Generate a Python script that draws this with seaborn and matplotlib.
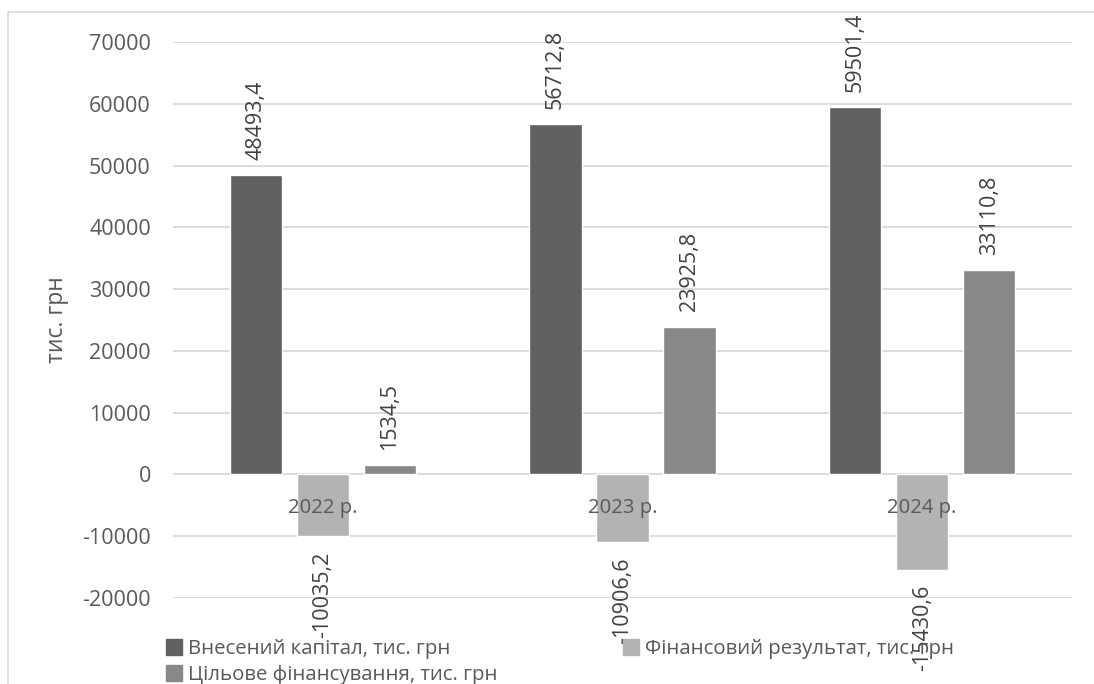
import matplotlib
matplotlib.use("Agg")
import matplotlib.pyplot as plt
from matplotlib.patches import Rectangle
import seaborn as sns
import pandas as pd

years = ["2022 р.", "2023 р.", "2024 р."]
series_names = ["Внесений капітал, тис. грн", "Фінансовий результат, тис. грн", "Цільове фінансування, тис. грн"]
capital = [48493.4, 56712.8, 59501.4]
fin_result = [-10035.2, -10906.6, -15430.6]
target_fin = [1534.5, 23925.8, 33110.8]
y_ticks = [-20000, -10000, 0, 10000, 20000, 30000, 40000, 50000, 60000, 70000]
colors = ["#616161", "#b3b3b3", "#888888"]

rows = []
for name, vals in zip(series_names, [capital, fin_result, target_fin]):
    for y, v in zip(years, vals):
        rows.append({"year": y, "series": name, "value": v})
df = pd.DataFrame(rows)

sns.set_theme(style="white")
FONT = ["Open Sans", "DejaVu Sans"]
plt.rcParams["font.family"] = FONT

W, H = 1094, 684
fig = plt.figure(figsize=(W / 100, H / 100), dpi=100)
ax = fig.add_axes([173 / W, 1 - 598 / H, (1072 - 173) / W, (598 - 42) / H])

sns.barplot(data=df, x="year", y="value", hue="series", hue_order=series_names,
            order=years, palette=colors, width=0.67, gap=0.22, ax=ax,
            legend=False, saturation=1, errorbar=None, zorder=2)

ax.set_ylim(-20000, 70000)
ax.set_yticks(y_ticks)
ax.set_yticklabels([str(t) for t in y_ticks])
ax.tick_params(axis="y", length=0, pad=16, labelsize=15.5, labelcolor="#595959")
ax.tick_params(axis="x", length=0, labelbottom=False)
ax.grid(axis="y", color="#d9d9d9", linewidth=1.3, zorder=0)
ax.set_axisbelow(True)
for s in ax.spines.values():
    s.set_visible(False)
ax.set_xlabel("")
ax.set_ylabel("тис. грн", fontsize=16.5, color="#595959")
ax.yaxis.set_label_coords(-(173 - 69) / (1072 - 173), 0.5)

fmt = lambda v: f"{v:.1f}".replace(".", ",")
for cont, vals in zip(ax.containers, [capital, fin_result, target_fin]):
    ax.bar_label(cont, labels=[fmt(v) for v in vals], rotation=90, padding=11,
                 fontsize=15.5, color="#404040")

for i, yr in enumerate(years):
    ax.annotate(yr, xy=(i, 0), xytext=(0, -24), textcoords="offset points",
                ha="center", va="center", fontsize=14.6, color="#595959", zorder=5)

handles = [plt.Rectangle((0, 0), 1, 1, color=c) for c in colors]
order = [0, 2, 1]
fig.legend([handles[k] for k in order], [series_names[k] for k in order],
           loc="upper left", bbox_to_anchor=(166 / W, 1 - 639 / H), ncol=2,
           frameon=False, fontsize=14.7, labelcolor="#595959", borderpad=0,
           handlelength=0.8, handleheight=0.8, handletextpad=0.3,
           columnspacing=6.1, labelspacing=0.3, borderaxespad=0)

fig.patches.append(Rectangle((8 / W, -0.1), 1.2, 1 - 12 / H + 0.1, transform=fig.transFigure,
                             fill=False, edgecolor="#d9d9d9", linewidth=1.2))

fig.savefig("out.png", dpi=100, facecolor="white")
